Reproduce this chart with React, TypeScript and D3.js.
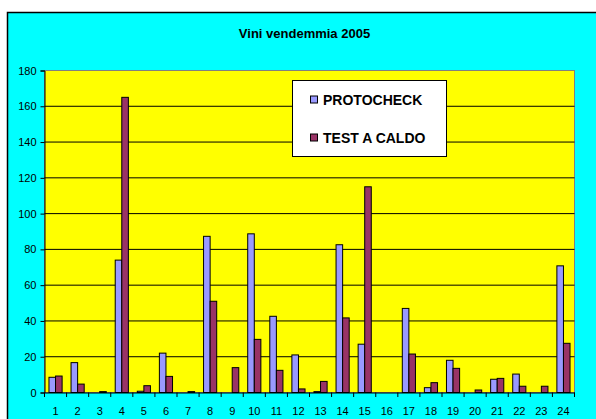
import { useEffect, useRef } from "react";
import * as d3 from "d3";

// ── Data ──────────────────────────────────────────────────────────────────────

const CATEGORIES = Array.from({ length: 24 }, (_, i) => String(i + 1));

const SERIES_NAMES = ["PROTOCHECK", "TEST A CALDO"];

const PROTOCHECK = [
  8.5, 16.7, 0, 74, 0.7, 22, 0, 87.3, 0, 88.7, 42.6, 21,
  0.5, 82.6, 27, 0, 47, 2.7, 18, 0, 7.4, 10.3, 0, 70.8,
];

const TEST_A_CALDO = [
  9.2, 4.7, 0.5, 165, 3.8, 9, 0.5, 51, 13.9, 29.7, 12.4, 2,
  6.2, 41.7, 115, 0, 21.5, 5.5, 13.5, 1.4, 7.9, 3.5, 3.5, 27.5,
];

const Y_TICKS = [0, 20, 40, 60, 80, 100, 120, 140, 160, 180];

// ── Config ────────────────────────────────────────────────────────────────────

const W = 596;
const H = 419;
const PLOT = { left: 44.5, right: 574.5, top: 70.5, bottom: 392.5 };
const COLORS = ["#9999FF", "#993366"];
const FONT = "Arial, 'Liberation Sans', Helvetica, sans-serif";

// ── Component ─────────────────────────────────────────────────────────────────

const App = () => {
  const svgRef = useRef<SVGSVGElement>(null);

  useEffect(() => {
    if (!svgRef.current) return;
    const svg = d3.select(svgRef.current);
    svg.selectAll("*").remove();

    const x = d3.scaleBand<string>()
      .domain(CATEGORIES)
      .range([PLOT.left, PLOT.right])
      .padding(0);

    const xSub = d3.scaleBand<string>()
      .domain(SERIES_NAMES)
      .range([0, x.bandwidth()])
      .paddingInner(0)
      .paddingOuter(0.68);

    const y = d3.scaleLinear()
      .domain([0, 180])
      .range([PLOT.bottom, PLOT.top]);

    // Background and chart frame
    svg.append("rect")
      .attr("width", W).attr("height", H)
      .attr("fill", "#ffffff");

    svg.append("rect")
      .attr("x", 7.5).attr("y", 12.5)
      .attr("width", 620).attr("height", 440)
      .attr("fill", "#00FFFF")
      .attr("stroke", "#000000")
      .attr("stroke-width", 1.5);

    // Title
    svg.append("text")
      .attr("x", 304.5).attr("y", 38)
      .attr("text-anchor", "middle")
      .attr("font-family", FONT)
      .attr("font-size", "13px")
      .attr("font-weight", "bold")
      .attr("fill", "#000")
      .text("Vini vendemmia 2005");

    // Plot area
    svg.append("rect")
      .attr("x", PLOT.left).attr("y", PLOT.top)
      .attr("width", PLOT.right - PLOT.left)
      .attr("height", PLOT.bottom - PLOT.top)
      .attr("fill", "#FFFF00")
      .attr("stroke", "#808080")
      .attr("stroke-width", 1);

    // Grid lines
    svg.append("g")
      .selectAll("line")
      .data(Y_TICKS.filter((t) => t > 0 && t < 180))
      .join("line")
      .attr("x1", PLOT.left).attr("x2", PLOT.right)
      .attr("y1", (d) => y(d)).attr("y2", (d) => y(d))
      .attr("stroke", "#000")
      .attr("stroke-width", 1);

    // Bars
    const series = [PROTOCHECK, TEST_A_CALDO];
    series.forEach((values, si) => {
      svg.append("g")
        .selectAll("rect")
        .data(values)
        .join("rect")
        .attr("x", (_, i) => (x(CATEGORIES[i]) ?? 0) + (xSub(SERIES_NAMES[si]) ?? 0))
        .attr("y", (d) => y(d))
        .attr("width", xSub.bandwidth())
        .attr("height", (d) => PLOT.bottom - y(d))
        .attr("fill", COLORS[si])
        .attr("stroke", "#000")
        .attr("stroke-width", (d) => (d > 0 ? 1 : 0));
    });

    // Y axis
    const yAxis = svg.append("g")
      .attr("transform", `translate(${PLOT.left},0)`)
      .call(d3.axisLeft(y).tickValues(Y_TICKS).tickSize(4).tickPadding(4));
    yAxis.select(".domain").attr("stroke", "#000");
    yAxis.selectAll(".tick line").attr("stroke", "#000");
    yAxis.selectAll("text")
      .attr("font-family", FONT)
      .attr("font-size", "11px")
      .attr("fill", "#000");

    // X axis
    const xAxis = svg.append("g")
      .attr("transform", `translate(0,${PLOT.bottom})`)
      .call(d3.axisBottom(x).tickSize(0).tickPadding(15));
    xAxis.select(".domain").attr("stroke", "#000");
    xAxis.selectAll("text")
      .attr("font-family", FONT)
      .attr("font-size", "11px")
      .attr("fill", "#000");

    svg.append("g")
      .selectAll("line")
      .data(CATEGORIES.concat(["end"]))
      .join("line")
      .attr("x1", (d) => (d === "end" ? PLOT.right : x(d) ?? 0))
      .attr("x2", (d) => (d === "end" ? PLOT.right : x(d) ?? 0))
      .attr("y1", PLOT.bottom)
      .attr("y2", PLOT.bottom + 4.5)
      .attr("stroke", "#000");

    // Legend
    const legend = svg.append("g");
    legend.append("rect")
      .attr("x", 292.5).attr("y", 80.5)
      .attr("width", 154).attr("height", 76)
      .attr("fill", "#ffffff")
      .attr("stroke", "#000")
      .attr("stroke-width", 1);

    SERIES_NAMES.forEach((name, i) => {
      const cy = 100 + i * 38;
      legend.append("rect")
        .attr("x", 310.5).attr("y", cy - 4)
        .attr("width", 7).attr("height", 7)
        .attr("fill", COLORS[i])
        .attr("stroke", "#000");
      legend.append("text")
        .attr("x", 323).attr("y", cy + 5)
        .attr("font-family", FONT)
        .attr("font-size", "14px")
        .attr("font-weight", "bold")
        .attr("fill", "#000")
        .text(name);
    });
  }, []);

  return (
    <svg
      ref={svgRef}
      width={W}
      height={H}
      style={{ position: "absolute", left: 0, top: 0, display: "block" }}
    />
  );
};

export default App;
